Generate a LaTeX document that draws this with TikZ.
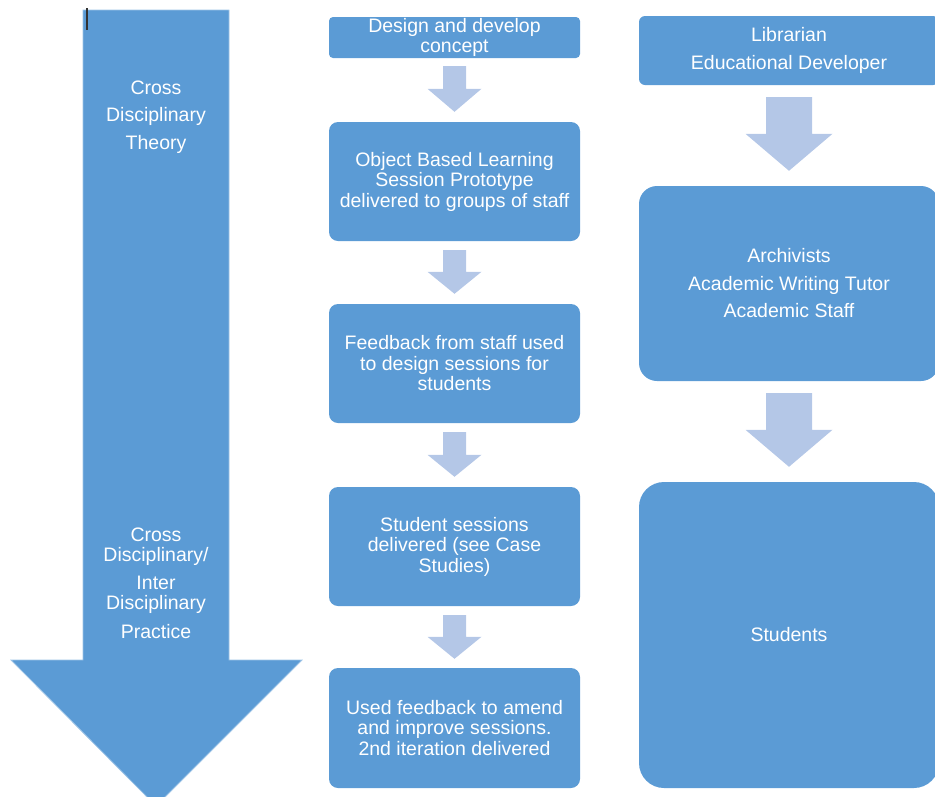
\documentclass[tikz,border=0pt]{standalone}
\usepackage{fontspec}
\setmainfont{Liberation Sans}
\usetikzlibrary{calc}
\definecolor{boxblue}{HTML}{5B9BD5}
\definecolor{lightarr}{HTML}{B4C7E7}
\definecolor{edgeblue}{HTML}{9DC3E6}
\newcommand{\blockarrow}[7]{%
  \fill[lightarr] let \p1=(#1.south), \p2=(#2.north) in
  (\x1-#5pt,\y1-#3pt) -- (\x1+#5pt,\y1-#3pt) -- (\x1+#5pt,\y2+#4pt+#7pt)
  -- (\x1+#6pt,\y2+#4pt+#7pt) -- (\x1,\y2+#4pt) -- (\x1-#6pt,\y2+#4pt+#7pt)
  -- (\x1-#5pt,\y2+#4pt+#7pt) -- cycle;}
\begin{document}
\begin{tikzpicture}[x=1pt,y=-1pt,
  midbox/.style={fill=boxblue, rounded corners=9pt, minimum width=251pt,
    text=white, align=center, font=\fontsize{19.5}{20.5}\selectfont, inner sep=0pt},
  rightbox/.style={fill=boxblue, rounded corners=18pt, minimum width=300pt,
    text=white, align=center, font=\fontsize{19.5}{27.5}\selectfont, inner sep=0pt},
  leftlbl/.style={text=white, align=center, font=\fontsize{19.5}{20.5}\selectfont, inner sep=0pt}]
\useasboundingbox (0,0) rectangle (935,796);
% big arrow
\path[fill=boxblue, draw=edgeblue, line width=0.8pt]
  (83,10) -- (229,10) -- (229,660) -- (302,660) -- (156,806) -- (11,660) -- (83,660) -- cycle;
\draw[black!80, line width=1.2pt] (87,8) -- (87,30);
\node[leftlbl] (l1) at (156,88) {Cross};
\node[leftlbl] (l2) at (156,116) {Disciplinary};
\node[leftlbl] (l3) at (156,144) {Theory};
\node[leftlbl] (l4) at (156,535) {Cross};
\node[leftlbl] (l5) at (156,556) {Disciplinary/};
\node[leftlbl] (l6) at (156,583) {Inter};
\node[leftlbl] (l7) at (156,604) {Disciplinary};
\node[leftlbl] (l8) at (156,632) {Practice};
% middle column
\node[midbox, rounded corners=4pt, minimum height=41pt] (m1) at (454.5,37.5) {Design and develop\\concept};
\node[midbox, minimum height=119pt] (m2) at (454.5,181.5) {Object Based Learning\\Session Prototype\\delivered to groups of staff};
\node[midbox, minimum height=119pt] (m3) at (454.5,363.5) {Feedback from staff used\\to design sessions for\\students};
\node[midbox, minimum height=119pt] (m4) at (454.5,546.5) {Student sessions\\delivered (see Case\\Studies)};
\node[midbox, minimum height=120pt] (m5) at (454.5,728) {Used feedback to amend\\and improve sessions.\\2nd iteration delivered};
\blockarrow{m1}{m2}{8}{10}{11.5}{27}{23}
\blockarrow{m2}{m3}{9}{10}{11.5}{27}{22}
\blockarrow{m3}{m4}{9}{10}{11.5}{27}{22}
\blockarrow{m4}{m5}{9}{9}{11.5}{27}{22}
% right column
\node[rightbox, rounded corners=6pt, minimum height=69pt] (r1) at (789,50.5) {Librarian\\Educational Developer};
\node[rightbox, minimum height=195pt] (r2) at (789,283.5) {Archivists\\Academic Writing Tutor\\Academic Staff};
\node[rightbox, rounded corners=25pt, minimum height=306pt] (r3) at (789,635) {Students};
\blockarrow{r1}{r2}{12}{15}{23}{43.5}{37}
\blockarrow{r2}{r3}{12}{15}{23}{43.5}{37}
\end{tikzpicture}
\end{document}
